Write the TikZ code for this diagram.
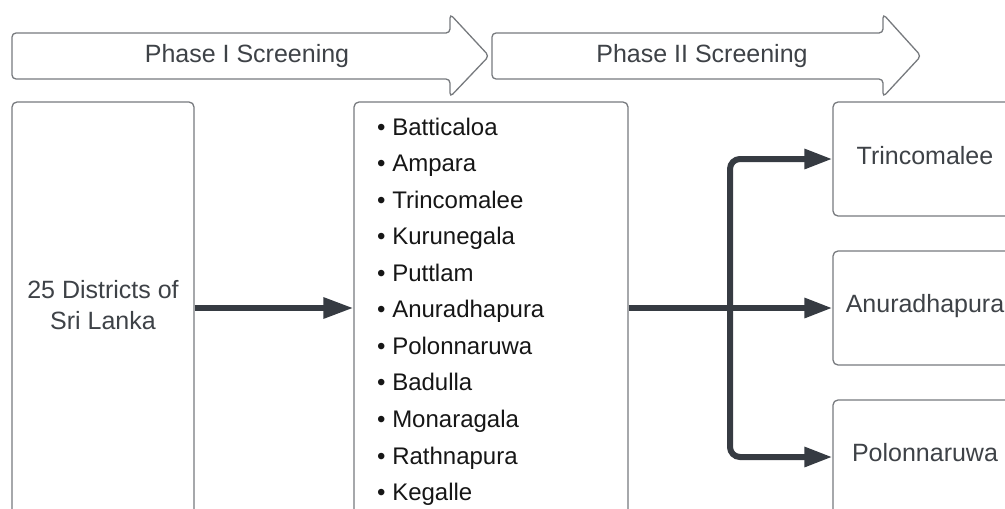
\documentclass[tikz,border=0pt]{standalone}
\usepackage{fontspec}
\setmainfont{Liberation Sans}
\usetikzlibrary{arrows.meta}
\definecolor{edgegray}{HTML}{777A7E}
\definecolor{linkdark}{HTML}{363B42}
\definecolor{textgray}{HTML}{3E4247}
\definecolor{listblack}{HTML}{161616}

\begin{document}
\begin{tikzpicture}[x=1pt,y=-1pt,
  box/.style={draw=edgegray, line width=1.3pt, rounded corners=5pt, fill=white,
    inner sep=0pt, rectangle},
  phasearrow/.style={draw=edgegray, line width=1.3pt, rounded corners=4pt, fill=white},
  boxtext/.style={text=textgray, font=\fontsize{25pt}{31pt}\selectfont, inner sep=0pt, align=center},
  itemtext/.style={text=listblack, font=\fontsize{24pt}{29pt}\selectfont, inner sep=0pt, anchor=base west},
  link/.style={draw=linkdark, line width=6pt, -{Triangle[length=30pt,width=20pt]}},
  branch/.style={draw=linkdark, line width=6pt, rounded corners=10pt,
    -{Triangle[length=28pt,width=19pt]}},
]
\useasboundingbox (0,0) rectangle (1005,509);
\clip (0,0) rectangle (1005,509);

% phase banners
\path[phasearrow] (12,33) -- (450,33) -- (450,14) -- (489,56) -- (450,97) -- (450,79) -- (12,79) -- cycle;
\node[boxtext, anchor=base] (phase1) at (247,62) {Phase I Screening};
\path[phasearrow] (492,33) -- (883,33) -- (883,14) -- (921,56) -- (883,97) -- (883,79) -- (492,79) -- cycle;
\node[boxtext, anchor=base] (phase2) at (702,62) {Phase II Screening};

% all districts (base anchor sits on the last line)
\node[box, minimum width=182pt, minimum height=412pt] (all) at (103,308) {};
\node[boxtext, anchor=base] (alltext) at (103,329) {25 Districts of\\Sri Lanka};

% phase I shortlist
\node[box, minimum width=274pt, minimum height=412pt] (short) at (491,308) {};
\foreach \name [count=\i from 0] in {Batticaloa,Ampara,Trincomalee,Kurunegala,Puttlam,
  Anuradhapura,Polonnaruwa,Badulla,Monaragala,Rathnapura,Kegalle}
  \node[itemtext] (item\i) at (377,135+36.57*\i) {\textbullet\ \name};

% phase II selection
\node[box, minimum width=184pt, minimum height=114pt] (sel1) at (925,159) {};
\node[box, minimum width=184pt, minimum height=114pt] (sel2) at (925,308) {};
\node[box, minimum width=184pt, minimum height=114pt] (sel3) at (925,457) {};
\node[boxtext, anchor=base] (sel1text) at ([yshift=-5pt]sel1.center) {Trincomalee};
\node[boxtext, anchor=base] (sel2text) at ([yshift=-4pt]sel2.center) {Anuradhapura};
\node[boxtext, anchor=base] (sel3text) at ([yshift=-4pt]sel3.center) {Polonnaruwa};

% connectors
\draw[link] (all.east) -- (short.west);
\coordinate (fork) at (730,308);
\draw[branch] (short.east) -- (sel2.west);
\draw[branch] (fork) |- (sel1.west);
\draw[branch] (fork) |- (sel3.west);
\end{tikzpicture}
\end{document}
